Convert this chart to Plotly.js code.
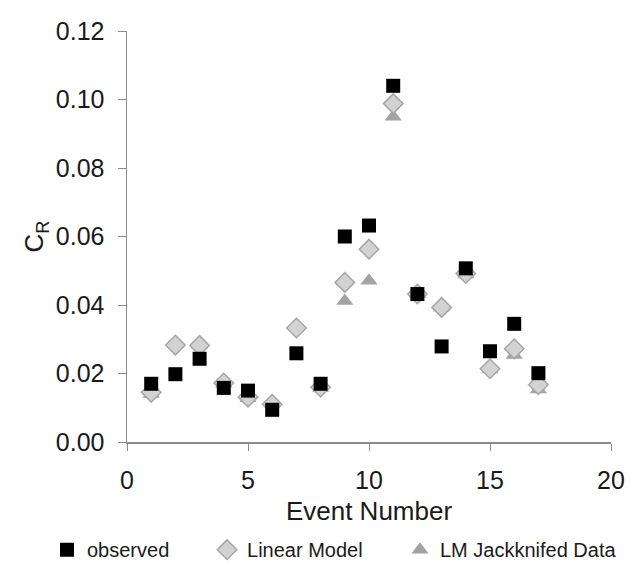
<!DOCTYPE html>
<html>
<head>
<meta charset="utf-8">
<script src="https://cdn.plot.ly/plotly-3.0.1.min.js"></script>
<style>html,body{margin:0;padding:0;background:#fff;}#chart{width:632px;height:565px;}</style>
</head>
<body>
<div id="chart"></div>
<script>
const eventNumbers = [1,2,3,4,5,6,7,8,9,10,11,12,13,14,15,16,17];
const observed = [0.0170,0.0198,0.0243,0.0158,0.0150,0.0094,0.0259,0.0170,0.0600,0.0632,0.1040,0.0432,0.0279,0.0507,0.0265,0.0345,0.0201];
const linearModel = [0.0145,0.0283,0.0282,0.0172,0.0131,0.0110,0.0333,0.0160,0.0466,0.0563,0.0988,0.0432,0.0393,0.0492,0.0214,0.0272,0.0167];
const lmJackknifed = [0.0140,0.0287,0.0284,0.0170,0.0128,0.0118,0.0340,0.0158,0.0412,0.0471,0.0950,0.0432,0.0393,0.0489,0.0212,0.0254,0.0153];
const seriesNames = ["observed","Linear Model","LM Jackknifed Data"];

const font = "Liberation Sans, Arial, Helvetica, sans-serif";
const legFont = {family: font, size: 20, color: "#1a1a1a"};

const traces = [
  {x: eventNumbers, y: lmJackknifed, name: seriesNames[2], type: "scatter", mode: "markers", legend: "legend3",
   marker: {symbol: "triangle-up", size: 15, color: "#a3a3a3", line: {width: 0}}},
  {x: eventNumbers, y: linearModel, name: seriesNames[1], type: "scatter", mode: "markers", legend: "legend2",
   marker: {symbol: "diamond", size: 15, color: "#d2d2d2", line: {width: 1.5, color: "#a6a6a6"}}},
  {x: eventNumbers, y: observed, name: seriesNames[0], type: "scatter", mode: "markers", legend: "legend",
   marker: {symbol: "square", size: 14, color: "#000000", line: {width: 0}}}
];

const legBase = {orientation: "h", y: -0.262, yanchor: "middle", xanchor: "left", font: legFont,
                 bgcolor: "rgba(0,0,0,0)", borderwidth: 0};

const layout = {
  width: 632, height: 565,
  margin: {l: 127, r: 21, t: 31, b: 123, autoexpand: false},
  paper_bgcolor: "#ffffff", plot_bgcolor: "#ffffff",
  font: {family: font, color: "#1a1a1a"},
  showlegend: true,
  legend: Object.assign({}, legBase, {x: -0.1653}),
  legend2: Object.assign({}, legBase, {x: 0.1653}),
  legend3: Object.assign({}, legBase, {x: 0.564}),
  xaxis: {range: [0, 20], dtick: 5, tick0: 0, showgrid: false, zeroline: false,
          showline: true, linecolor: "#8c8c8c", linewidth: 1.5, ticks: "outside", ticklen: 7, tickcolor: "#8c8c8c",
          ticklabelstandoff: 8,
          tickfont: {size: 25, family: font, color: "#1a1a1a"},
          title: {text: "Event Number", font: {size: 26, family: font, color: "#1a1a1a"}, standoff: 9}},
  yaxis: {range: [0, 0.12], dtick: 0.02, tick0: 0, tickformat: ".2f", showgrid: false, zeroline: false,
          showline: true, linecolor: "#8c8c8c", linewidth: 1.5, ticks: "outside", ticklen: 8, tickcolor: "#8c8c8c",
          ticklabelstandoff: 8,
          tickfont: {size: 25, family: font, color: "#1a1a1a"},
          title: {text: "C<sub>R</sub>", font: {size: 26, family: font, color: "#1a1a1a"}, standoff: 4}}
};

Plotly.newPlot("chart", traces, layout, {displayModeBar: false, staticPlot: true});
</script>
</body>
</html>
